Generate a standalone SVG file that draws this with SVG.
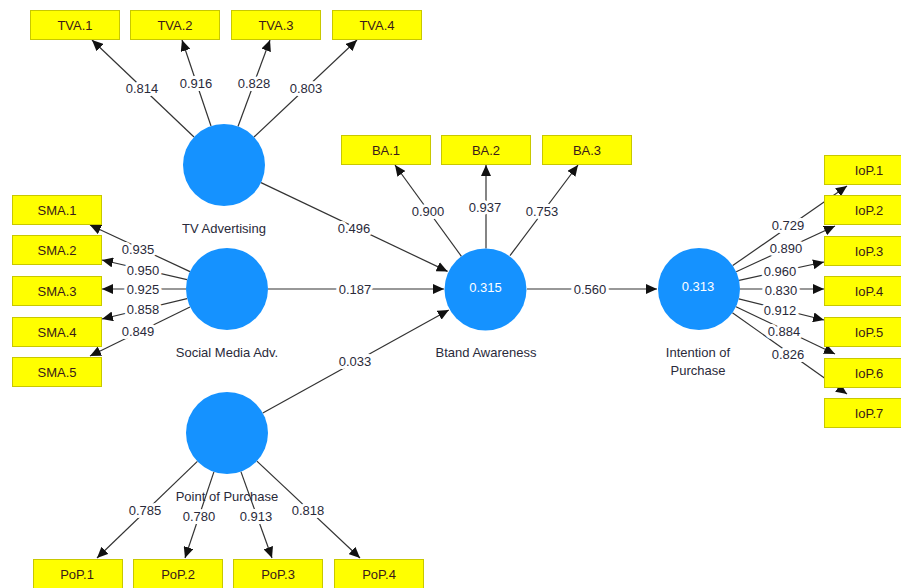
<svg xmlns="http://www.w3.org/2000/svg" width="901" height="588" viewBox="0 0 901 588">
<defs>
<marker id="ah" markerUnits="userSpaceOnUse" markerWidth="11" markerHeight="10" refX="11" refY="5" orient="auto">
<path d="M0,0 L11,5 L0,10 z" fill="#111"/>
</marker>
<style>
.c{stroke:#333;stroke-width:1.2;fill:none;marker-end:url(#ah)}
.lb{font-family:"Liberation Sans",Arial,sans-serif;font-size:13px;fill:#2a2a3a;text-anchor:middle;dominant-baseline:central;stroke:#fff;stroke-width:6;paint-order:stroke;stroke-linejoin:round}
.box{fill:#ffff00;stroke:#c8c800;stroke-width:1}
.bt{font-family:"Liberation Sans",Arial,sans-serif;font-size:13px;fill:#3a1a1a;text-anchor:middle;dominant-baseline:central}
.lv{fill:#1592ff}
.nt{font-family:"Liberation Sans",Arial,sans-serif;font-size:13px;fill:#2a2a3a;text-anchor:middle;dominant-baseline:central}
.r2{font-family:"Liberation Sans",Arial,sans-serif;font-size:13px;fill:#fff;text-anchor:middle;dominant-baseline:central}
</style>
</defs>
<rect width="901" height="588" fill="#fff"/>
<g id="connectors">
<line class="c" x1="194" y1="137" x2="92" y2="40"/>
<line class="c" x1="211" y1="126" x2="182" y2="40"/>
<line class="c" x1="238" y1="126.5" x2="270" y2="40"/>
<line class="c" x1="254" y1="137" x2="357" y2="40"/>
<line class="c" x1="190" y1="271.6" x2="90" y2="225"/>
<line class="c" x1="187" y1="279.7" x2="102" y2="260"/>
<line class="c" x1="186" y1="289" x2="102" y2="289"/>
<line class="c" x1="187" y1="298.6" x2="102" y2="319"/>
<line class="c" x1="190" y1="307" x2="90" y2="356"/>
<line class="c" x1="261" y1="182.6" x2="447.6" y2="271.4"/>
<line class="c" x1="268" y1="289" x2="444" y2="289"/>
<line class="c" x1="262.8" y1="413.1" x2="448.8" y2="309.9"/>
<line class="c" x1="461.4" y1="256.3" x2="395" y2="165"/>
<line class="c" x1="486" y1="248.5" x2="486" y2="165"/>
<line class="c" x1="510" y1="255.6" x2="578" y2="165"/>
<line class="c" x1="527" y1="289" x2="657" y2="289"/>
<line class="c" x1="732.7" y1="265.6" x2="847" y2="186"/>
<line class="c" x1="736.2" y1="271.8" x2="835" y2="226"/>
<line class="c" x1="739.1" y1="280.3" x2="824" y2="262"/>
<line class="c" x1="740" y1="289" x2="824" y2="289"/>
<line class="c" x1="738.8" y1="298.9" x2="824" y2="320"/>
<line class="c" x1="736" y1="306.7" x2="835" y2="354"/>
<line class="c" x1="732.4" y1="312.7" x2="847" y2="394"/>
<line class="c" x1="197.4" y1="461.4" x2="97" y2="558"/>
<line class="c" x1="213.9" y1="471.9" x2="185" y2="558"/>
<line class="c" x1="240.9" y1="471.6" x2="272" y2="558"/>
<line class="c" x1="256.9" y1="461.1" x2="360" y2="558"/>
<text class="lb" x="142" y="88">0.814</text>
<text class="lb" x="196" y="83">0.916</text>
<text class="lb" x="254" y="83">0.828</text>
<text class="lb" x="306" y="88">0.803</text>
<text class="lb" x="138" y="249">0.935</text>
<text class="lb" x="143" y="270">0.950</text>
<text class="lb" x="143" y="289">0.925</text>
<text class="lb" x="143" y="309">0.858</text>
<text class="lb" x="138" y="331">0.849</text>
<text class="lb" x="354" y="228">0.496</text>
<text class="lb" x="355" y="289">0.187</text>
<text class="lb" x="355" y="361">0.033</text>
<text class="lb" x="428" y="211">0.900</text>
<text class="lb" x="485" y="207">0.937</text>
<text class="lb" x="542" y="211">0.753</text>
<text class="lb" x="590" y="289">0.560</text>
<text class="lb" x="788" y="225">0.729</text>
<text class="lb" x="786" y="248">0.890</text>
<text class="lb" x="780" y="271">0.960</text>
<text class="lb" x="781" y="290">0.830</text>
<text class="lb" x="780" y="310">0.912</text>
<text class="lb" x="784" y="331">0.884</text>
<text class="lb" x="788" y="354">0.826</text>
<text class="lb" x="145" y="510">0.785</text>
<text class="lb" x="199" y="516">0.780</text>
<text class="lb" x="256" y="516">0.913</text>
<text class="lb" x="308" y="510">0.818</text>
</g>
<g id="tv-advertising"><circle class="lv" cx="224" cy="165" r="41"/><text class="nt" x="224" y="228">TV Advertising</text></g>
<g id="social-media-adv"><circle class="lv" cx="227" cy="289" r="41"/><text class="nt" x="227" y="352">Social Media Adv.</text></g>
<g id="point-of-purchase"><circle class="lv" cx="227" cy="433" r="41"/><text class="nt" x="227" y="496">Point of Purchase</text></g>
<g id="brand-awareness"><circle class="lv" cx="485.5" cy="289.5" r="41"/><text class="r2" x="485.5" y="287">0.315</text><text class="nt" x="486" y="352">Btand Awareness</text></g>
<g id="intention-of-purchase"><circle class="lv" cx="699" cy="289" r="41"/><text class="r2" x="698" y="286">0.313</text><text class="nt" x="698" y="352">Intention of</text><text class="nt" x="698" y="370">Purchase</text></g>
<g id="TVA.1"><rect class="box" x="30.5" y="10.5" width="89" height="29"/><text class="bt" x="75" y="25">TVA.1</text></g>
<g id="TVA.2"><rect class="box" x="130.5" y="10.5" width="89" height="29"/><text class="bt" x="175" y="25">TVA.2</text></g>
<g id="TVA.3"><rect class="box" x="231.5" y="10.5" width="89" height="29"/><text class="bt" x="276" y="25">TVA.3</text></g>
<g id="TVA.4"><rect class="box" x="332.5" y="10.5" width="89" height="29"/><text class="bt" x="377" y="25">TVA.4</text></g>
<g id="SMA.1"><rect class="box" x="12.5" y="195.5" width="89" height="29"/><text class="bt" x="57" y="210">SMA.1</text></g>
<g id="SMA.2"><rect class="box" x="12.5" y="235.5" width="89" height="29"/><text class="bt" x="57" y="250">SMA.2</text></g>
<g id="SMA.3"><rect class="box" x="12.5" y="276.5" width="89" height="29"/><text class="bt" x="57" y="291">SMA.3</text></g>
<g id="SMA.4"><rect class="box" x="12.5" y="317.5" width="89" height="29"/><text class="bt" x="57" y="332">SMA.4</text></g>
<g id="SMA.5"><rect class="box" x="12.5" y="357.5" width="89" height="29"/><text class="bt" x="57" y="372">SMA.5</text></g>
<g id="BA.1"><rect class="box" x="341.5" y="135.5" width="89" height="29"/><text class="bt" x="386" y="150">BA.1</text></g>
<g id="BA.2"><rect class="box" x="441.5" y="135.5" width="89" height="29"/><text class="bt" x="486" y="150">BA.2</text></g>
<g id="BA.3"><rect class="box" x="542.5" y="135.5" width="89" height="29"/><text class="bt" x="587" y="150">BA.3</text></g>
<g id="IoP.1"><rect class="box" x="824.5" y="155.5" width="89" height="29"/><text class="bt" x="869" y="170">IoP.1</text></g>
<g id="IoP.2"><rect class="box" x="824.5" y="195.5" width="89" height="29"/><text class="bt" x="869" y="210">IoP.2</text></g>
<g id="IoP.3"><rect class="box" x="824.5" y="236.5" width="89" height="29"/><text class="bt" x="869" y="251">IoP.3</text></g>
<g id="IoP.4"><rect class="box" x="824.5" y="276.5" width="89" height="29"/><text class="bt" x="869" y="291">IoP.4</text></g>
<g id="IoP.5"><rect class="box" x="824.5" y="317.5" width="89" height="29"/><text class="bt" x="869" y="332">IoP.5</text></g>
<g id="IoP.6"><rect class="box" x="824.5" y="358.5" width="89" height="29"/><text class="bt" x="869" y="373">IoP.6</text></g>
<g id="IoP.7"><rect class="box" x="824.5" y="398.5" width="89" height="29"/><text class="bt" x="869" y="413">IoP.7</text></g>
<g id="PoP.1"><rect class="box" x="33.5" y="559.5" width="89" height="29"/><text class="bt" x="77" y="574">PoP.1</text></g>
<g id="PoP.2"><rect class="box" x="133.5" y="559.5" width="89" height="29"/><text class="bt" x="178" y="574">PoP.2</text></g>
<g id="PoP.3"><rect class="box" x="233.5" y="559.5" width="89" height="29"/><text class="bt" x="278" y="574">PoP.3</text></g>
<g id="PoP.4"><rect class="box" x="334.5" y="559.5" width="89" height="29"/><text class="bt" x="379" y="574">PoP.4</text></g>
</svg>
